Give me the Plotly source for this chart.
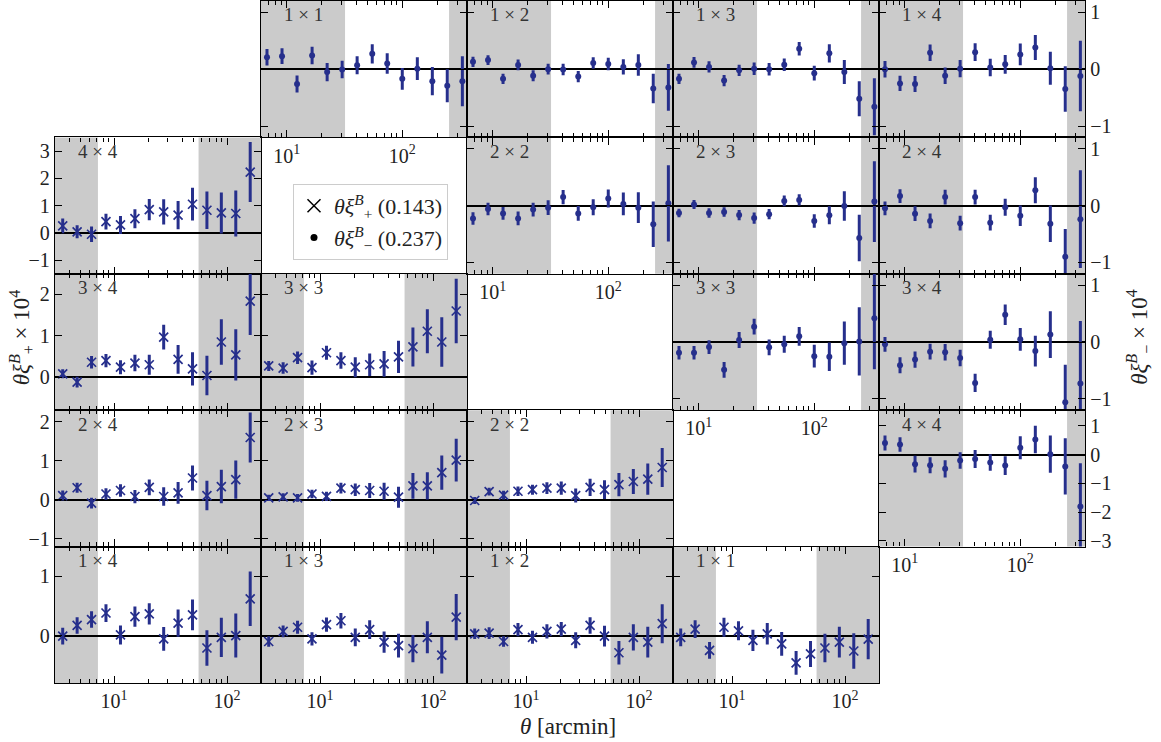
import math
import plotly.graph_objects as go

# ---------------- data ----------------
theta_plus = [3.51, 4.71, 6.32, 8.48, 11.4, 15.3, 20.5, 27.5, 36.9, 49.5, 66.4, 89.1, 119.6, 160.5]
theta_minus = [6.76, 9.12, 12.3, 16.6, 22.4, 30.2, 40.7, 55.0, 74.1, 100.0, 135.0, 182.0, 245.0, 331.0]

theta_plus_range = [3.0, 200.0]
theta_minus_range = [6.0, 363.0]
plus_cuts = [7.2, 56.0]
minus_cuts = [32.0, 254.0]

# xi_minus (dots), upper triangle
m11 = [0.21, 0.23, -0.26, 0.24, -0.05, -0.005, 0.07, 0.27, 0.10, -0.17, 0.01, -0.21, -0.29, -0.21]
m11e = [0.145, 0.14, 0.15, 0.155, 0.16, 0.155, 0.16, 0.17, 0.18, 0.19, 0.2, 0.25, 0.29, 0.44]
m12 = [0.13, 0.16, -0.17, 0.075, -0.115, 0.0, -0.005, -0.13, 0.11, 0.09, 0.04, 0.075, -0.34, -0.32]
m12e = [0.09, 0.085, 0.09, 0.095, 0.095, 0.095, 0.1, 0.1, 0.1, 0.11, 0.135, 0.19, 0.26, 0.41]
m13 = [-0.17, 0.12, 0.04, -0.2, -0.02, 0.006, 0.0, 0.08, 0.36, -0.07, 0.28, -0.05, -0.52, -0.66]
m13e = [0.09, 0.095, 0.1, 0.1, 0.1, 0.11, 0.11, 0.11, 0.12, 0.13, 0.16, 0.21, 0.31, 0.5]
m14 = [0.0, -0.25, -0.26, 0.29, -0.115, 0.01, 0.30, 0.03, 0.087, 0.26, 0.38, 0.017, -0.35, -0.12]
m14e = [0.145, 0.135, 0.14, 0.145, 0.145, 0.15, 0.155, 0.155, 0.165, 0.19, 0.22, 0.29, 0.4, 0.62]
m22 = [-0.226, -0.06, -0.137, -0.226, -0.07, -0.036, 0.15, -0.137, -0.03, 0.125, 0.03, -0.036, -0.33, 0.04]
m22e = [0.11, 0.11, 0.113, 0.12, 0.12, 0.13, 0.125, 0.13, 0.14, 0.16, 0.2, 0.27, 0.4, 0.67]
m23 = [-0.13, 0.018, -0.13, -0.113, -0.167, -0.22, -0.15, 0.083, 0.1, -0.27, -0.17, -0.006, -0.57, 0.07]
m23e = [0.075, 0.08, 0.085, 0.085, 0.09, 0.1, 0.09, 0.095, 0.1, 0.12, 0.16, 0.26, 0.41, 0.71]
m24 = [-0.048, 0.167, -0.143, -0.27, 0.15, -0.31, 0.15, -0.3, -0.03, -0.18, 0.27, -0.32, -0.9, -0.24]
m24e = [0.12, 0.12, 0.13, 0.13, 0.13, 0.13, 0.13, 0.14, 0.15, 0.18, 0.23, 0.32, 0.49, 0.86]
m33 = [-0.19, -0.19, -0.09, -0.49, 0.035, 0.27, -0.094, -0.04, 0.1, -0.25, -0.26, -0.02, 0.01, 0.42]
m33e = [0.12, 0.12, 0.12, 0.14, 0.14, 0.14, 0.14, 0.15, 0.165, 0.2, 0.25, 0.38, 0.6, 0.9]
m34 = [-0.04, -0.41, -0.31, -0.17, -0.18, -0.28, -0.72, 0.04, 0.48, 0.047, -0.16, 0.13, -1.06, -0.73]
m34e = [0.13, 0.14, 0.145, 0.14, 0.145, 0.145, 0.16, 0.16, 0.18, 0.2, 0.27, 0.41, 0.66, 1.1]
m44 = [0.41, 0.355, -0.33, -0.37, -0.49, -0.2, -0.15, -0.27, -0.38, 0.24, 0.53, 0.02, -0.41, -1.8]
m44e = [0.26, 0.25, 0.29, 0.28, 0.3, 0.29, 0.31, 0.29, 0.33, 0.4, 0.48, 0.65, 0.98, 1.5]

# xi_plus (crosses), lower triangle
p44 = [0.26, 0.04, -0.05, 0.41, 0.29, 0.52, 0.85, 0.77, 0.65, 1.05, 0.83, 0.73, 0.71, 2.23]
p44e = [0.27, 0.24, 0.28, 0.29, 0.33, 0.35, 0.39, 0.46, 0.52, 0.6, 0.69, 0.75, 0.84, 1.1]
p34 = [0.08, -0.12, 0.36, 0.40, 0.24, 0.34, 0.30, 0.97, 0.43, 0.2, 0.04, 0.85, 0.54, 1.84]
p34e = [0.11, 0.13, 0.15, 0.16, 0.17, 0.2, 0.24, 0.30, 0.35, 0.4, 0.48, 0.55, 0.62, 0.82]
p33 = [0.27, 0.22, 0.47, 0.23, 0.59, 0.40, 0.24, 0.30, 0.32, 0.49, 0.73, 1.11, 0.85, 1.6]
p33e = [0.12, 0.14, 0.15, 0.17, 0.17, 0.2, 0.24, 0.27, 0.31, 0.39, 0.47, 0.53, 0.6, 0.78]
p24 = [0.11, 0.31, -0.085, 0.15, 0.24, 0.085, 0.32, 0.085, 0.18, 0.56, 0.11, 0.34, 0.52, 1.6]
p24e = [0.13, 0.13, 0.14, 0.15, 0.16, 0.17, 0.2, 0.24, 0.28, 0.32, 0.38, 0.43, 0.49, 0.64]
p23 = [0.05, 0.076, 0.05, 0.15, 0.09, 0.3, 0.26, 0.24, 0.22, 0.068, 0.36, 0.36, 0.7, 1.02]
p23e = [0.08, 0.09, 0.1, 0.11, 0.12, 0.14, 0.16, 0.19, 0.22, 0.27, 0.33, 0.35, 0.44, 0.55]
p22 = [-0.017, 0.21, 0.12, 0.22, 0.26, 0.3, 0.3, 0.11, 0.32, 0.26, 0.39, 0.47, 0.53, 0.83]
p22e = [0.09, 0.1, 0.11, 0.12, 0.13, 0.15, 0.17, 0.18, 0.22, 0.24, 0.3, 0.32, 0.4, 0.5]
p14 = [-0.01, 0.17, 0.27, 0.38, 0.01, 0.32, 0.365, -0.056, 0.21, 0.35, -0.21, -0.03, 0.0, 0.62]
p14e = [0.14, 0.14, 0.14, 0.15, 0.16, 0.17, 0.18, 0.2, 0.23, 0.26, 0.3, 0.33, 0.37, 0.46]
p13 = [-0.1, 0.07, 0.14, -0.056, 0.185, 0.25, -0.03, 0.1, -0.11, -0.17, -0.22, -0.03, -0.33, 0.31]
p13e = [0.09, 0.1, 0.11, 0.11, 0.12, 0.13, 0.15, 0.16, 0.18, 0.2, 0.23, 0.27, 0.31, 0.39]
p12 = [0.03, 0.04, -0.1, 0.1, -0.03, 0.07, 0.11, -0.08, 0.17, -0.01, -0.29, -0.03, -0.11, 0.2]
p12e = [0.09, 0.1, 0.09, 0.11, 0.11, 0.12, 0.12, 0.135, 0.14, 0.175, 0.2, 0.22, 0.26, 0.33]
p11 = [-0.03, 0.11, -0.25, 0.14, 0.08, -0.08, 0.03, -0.14, -0.46, -0.31, -0.21, -0.11, -0.26, -0.06]
p11e = [0.15, 0.15, 0.14, 0.16, 0.16, 0.18, 0.18, 0.2, 0.2, 0.22, 0.24, 0.26, 0.3, 0.34]

# y-ranges per grid row
plus_yrange = {1: [-1.5, 3.5], 2: [-0.8, 2.5], 3: [-1.2, 2.3], 4: [-0.8, 1.5]}
minus_yrange = {0: [-1.2, 1.2], 1: [-1.2, 1.2], 2: [-1.2, 1.2], 3: [-3.2, 1.55]}

xtick_vals = [10, 100]
xtick_text = ["10<sup>1</sup>", "10<sup>2</sup>"]

legend_plus = "<i>θξ</i><sup><i>B</i></sup><sub>+</sub> (0.143)"
legend_minus = "<i>θξ</i><sup><i>B</i></sup><sub>−</sub> (0.237)"

# (row, col, label, kind, values, errors)
panels = [
    (0, 1, "1 × 1", "m", m11, m11e), (0, 2, "1 × 2", "m", m12, m12e),
    (0, 3, "1 × 3", "m", m13, m13e), (0, 4, "1 × 4", "m", m14, m14e),
    (1, 2, "2 × 2", "m", m22, m22e), (1, 3, "2 × 3", "m", m23, m23e),
    (1, 4, "2 × 4", "m", m24, m24e), (2, 3, "3 × 3", "m", m33, m33e),
    (2, 4, "3 × 4", "m", m34, m34e), (3, 4, "4 × 4", "m", m44, m44e),
    (1, 0, "4 × 4", "p", p44, p44e), (2, 0, "3 × 4", "p", p34, p34e),
    (2, 1, "3 × 3", "p", p33, p33e), (3, 0, "2 × 4", "p", p24, p24e),
    (3, 1, "2 × 3", "p", p23, p23e), (3, 2, "2 × 2", "p", p22, p22e),
    (4, 0, "1 × 4", "p", p14, p14e), (4, 1, "1 × 3", "p", p13, p13e),
    (4, 2, "1 × 2", "p", p12, p12e), (4, 3, "1 × 1", "p", p11, p11e),
]

# ---------------- styling ----------------
BLUE = "#262f8c"
GRAY = "#cbcbcb"
FONT = "Liberation Serif"
TXT = "#222222"
LW = 1.4
minor_vals = [m * 10 ** d for d in range(0, 3) for m in range(2, 10)]

fig = go.Figure()
layout = {}
shapes = []
annotations = []


def frac(v, rng):
    lo, hi = math.log10(rng[0]), math.log10(rng[1])
    return (math.log10(v) - lo) / (hi - lo)


for i, (r, c, label, kind, vals, errs) in enumerate(panels, start=1):
    suf = str(i) if i > 1 else ""
    xn, yn = "x" + suf, "y" + suf
    if kind == "p":
        th, xr, cuts, yr = theta_plus, theta_plus_range, plus_cuts, plus_yrange[r]
        marker = dict(symbol="x-thin", size=9, color=BLUE, line=dict(width=1.7, color=BLUE))
    else:
        th, xr, cuts, yr = theta_minus, theta_minus_range, minus_cuts, minus_yrange[r]
        marker = dict(symbol="circle", size=6, color=BLUE)

    fig.add_trace(go.Scatter(
        x=th, y=vals, xaxis=xn, yaxis=yn, mode="markers", marker=marker,
        error_y=dict(type="data", array=errs, visible=True, thickness=3, width=0, color=BLUE),
        showlegend=False, hoverinfo="x+y"))

    show_xlabels = (kind == "p" and r == 4) or (kind == "m" and r + 1 == c)
    layout["xaxis" + suf] = dict(
        domain=[c * 0.2, (c + 1) * 0.2], anchor=yn, type="log",
        range=[math.log10(xr[0]), math.log10(xr[1])], automargin=False,
        showline=True, linecolor="black", linewidth=LW, mirror="ticks",
        ticks="inside", ticklen=7, tickwidth=1.3, tickcolor="black",
        tickmode="array", tickvals=xtick_vals, ticktext=xtick_text,
        showticklabels=show_xlabels, showgrid=False, zeroline=False,
        minor=dict(ticks="inside", ticklen=4, tickwidth=1, tickcolor="black",
                   tickmode="array", tickvals=minor_vals, showgrid=False),
        tickfont=dict(family=FONT, size=20, color=TXT),
    )
    ya = dict(
        domain=[1 - (r + 1) * 0.2, 1 - r * 0.2], anchor=xn, range=yr, automargin=False,
        showline=True, linecolor="black", linewidth=LW, mirror="ticks",
        ticks="inside", ticklen=7, tickwidth=1.3, tickcolor="black",
        dtick=1, tick0=0, showgrid=False,
        zeroline=True, zerolinecolor="black", zerolinewidth=2,
        tickfont=dict(family=FONT, size=20, color=TXT),
    )
    if kind == "p":
        ya["showticklabels"] = (c == 0)
        ya["side"] = "left"
    else:
        ya["showticklabels"] = (c == 4)
        ya["side"] = "right"
    layout["yaxis" + suf] = ya

    for a, b in [(0.0, frac(cuts[0], xr)), (frac(cuts[1], xr), 1.0)]:
        shapes.append(dict(type="rect", xref=f"{xn} domain", yref=f"{yn} domain",
                           x0=a, x1=b, y0=0, y1=1, fillcolor=GRAY,
                           line=dict(width=0), layer="below"))

    annotations.append(dict(text=label, xref=f"{xn} domain", yref=f"{yn} domain",
                            x=0.1, y=0.99, xanchor="left", yanchor="top", showarrow=False,
                            font=dict(family=FONT, size=19, color="#333333")))

# legend entries
fig.add_trace(go.Scatter(x=[None], y=[None], xaxis="x", yaxis="y", mode="markers",
                         name=legend_plus,
                         marker=dict(symbol="x-thin", size=13, color="black",
                                     line=dict(width=1.5, color="black"))))
fig.add_trace(go.Scatter(x=[None], y=[None], xaxis="x", yaxis="y", mode="markers",
                         name=legend_minus,
                         marker=dict(symbol="circle", size=7, color="black")))

annotations += [
    dict(text="<i>θ</i> [arcmin]", xref="paper", yref="paper", x=0.498, y=-0.064,
         xanchor="center", yanchor="middle", showarrow=False,
         font=dict(family=FONT, size=23, color=TXT)),
    dict(text="<i>θξ</i><sup><i>B</i></sup><sub>+</sub> × 10<sup>4</sup>", xref="paper",
         yref="paper", x=-0.033, y=0.507, textangle=-90, xanchor="center", yanchor="middle",
         showarrow=False, font=dict(family=FONT, size=23, color=TXT)),
    dict(text="<i>θξ</i><sup><i>B</i></sup><sub>−</sub> × 10<sup>4</sup>", xref="paper",
         yref="paper", x=1.052, y=0.507, textangle=-90, xanchor="center", yanchor="middle",
         showarrow=False, font=dict(family=FONT, size=23, color=TXT)),
]

fig.update_layout(
    width=1161, height=742,
    margin=dict(l=55, r=76, t=1, b=59, autoexpand=False),
    paper_bgcolor="white", plot_bgcolor="white",
    font=dict(family=FONT, size=16, color="black"),
    shapes=shapes, annotations=annotations,
    legend=dict(x=(293 - 55) / 1030, y=(683 - 184) / 682, xanchor="left", yanchor="top",
                bgcolor="white", bordercolor="#cccccc", borderwidth=1,
                font=dict(family=FONT, size=22, color=TXT), itemwidth=30),
    **layout,
)

fig.write_html("out.html", config={"displayModeBar": False},
               post_script="document.body.style.margin='0';")
